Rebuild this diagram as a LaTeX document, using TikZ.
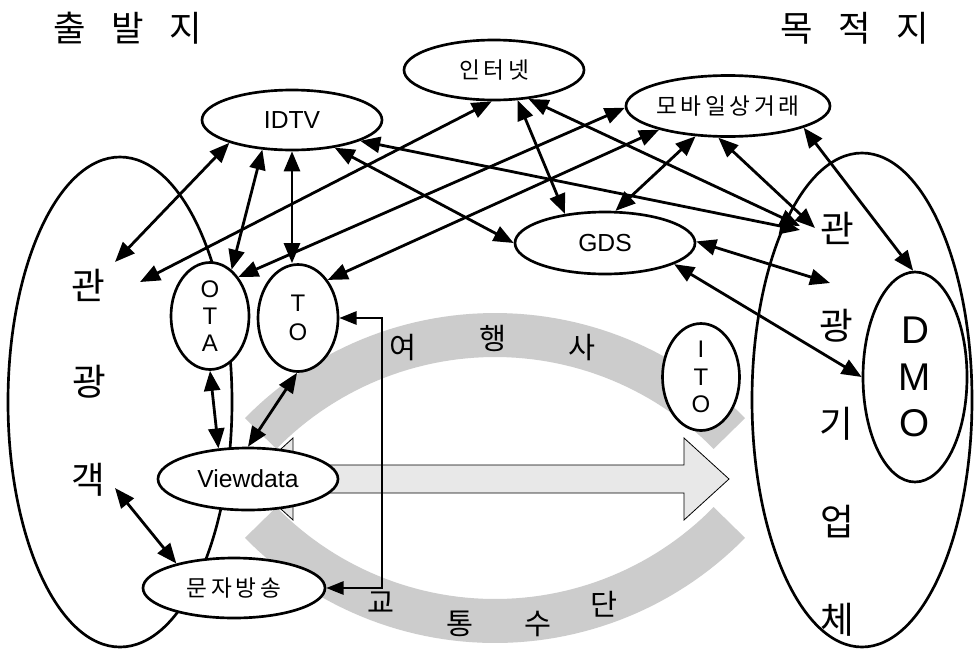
\documentclass[tikz,border=0pt]{standalone}
\usepackage{fontspec}
\setmainfont{Liberation Sans}
\newfontfamily\kr{Noto Sans CJK KR}
\newfontfamily\krsp[LetterSpace=16]{Noto Sans CJK KR}
\usetikzlibrary{shapes.geometric,arrows.meta,calc}

\begin{document}
\begin{tikzpicture}[x=0.75pt,y=-0.75pt,
  oval/.style={ellipse,draw,line width=2pt,fill=white,inner sep=0pt},
  latlabel/.style={font=\fontsize{18.5}{20}\selectfont},
  krlabel/.style={font=\krsp\fontsize{17}{18}\selectfont},
  stacked/.style={align=center,font=\fontsize{18}{20.5}\selectfont},
  bigchar/.style={font=\kr\fontsize{27.5}{27.5}\selectfont,inner sep=0pt},
  bandchar/.style={font=\kr\fontsize{22}{22}\selectfont,inner sep=0pt},
  title/.style={font=\kr\fontsize{26.5}{26.5}\selectfont,inner sep=0pt},
  link/.style={line width=2.1pt,{Triangle[length=15pt,width=12pt]}-{Triangle[length=15pt,width=12pt]}},
  feed/.style={line width=1.5pt,{Triangle[length=13pt,width=10pt]}-{Triangle[length=13pt,width=10pt]}},
  bandfill/.style={fill=black!20},
]
\useasboundingbox (0,0) rectangle (977,650);
\fill[white] (0,0) rectangle (977,650);

% curved bands: travel agencies (top) and transport (bottom)
\fill[bandfill] plot[domain=44.4:135.6,samples=60] ({495+350*cos(\x)},{663-350*sin(\x)})
  -- plot[domain=135.6:44.4,samples=60] ({495+306*cos(\x)},{663-306*sin(\x)}) -- cycle;
\fill[bandfill] plot[domain=44.4:135.6,samples=60] ({495+350*cos(\x)},{293+350*sin(\x)})
  -- plot[domain=135.6:44.4,samples=60] ({495+306*cos(\x)},{293+306*sin(\x)}) -- cycle;

% two-headed block arrow between origin and destination
\draw[line width=0.6pt,fill=black!9] (248,479) -- (293,438) -- (293,465) -- (684,465) -- (684,438)
  -- (729,479) -- (684,520) -- (684,493) -- (293,493) -- (293,520) -- cycle;

% origin and destination regions
\node[ellipse,draw,line width=2pt,minimum width=168pt,minimum height=367.5pt] (tourists) at (120,402) {};
\node[ellipse,draw,line width=2pt,minimum width=165pt,minimum height=370.5pt] (firms) at (862,400) {};

% headings
\node[title] (origin) at (128,28) {출\hspace{19pt}발\hspace{19pt}지};
\node[title] (dest) at (855,28) {목\hspace{19pt}적\hspace{19pt}지};

% vertical labels
\node[bigchar] (t1) at (88,285) {관};
\node[bigchar] (t2) at (89,382) {광};
\node[bigchar] (t3) at (88,480) {객};
\node[bigchar] (f1) at (837,228) {관};
\node[bigchar] (f2) at (836,326) {광};
\node[bigchar] (f3) at (836,424) {기};
\node[bigchar] (f4) at (837,522) {업};
\node[bigchar] (f5) at (837,620) {체};

% band labels
\node[bandchar] (b1) at (403,348) {여};
\node[bandchar] (b2) at (493,338) {행};
\node[bandchar] (b3) at (582,348) {사};
\node[bandchar] (b4) at (381,603) {교};
\node[bandchar] (b5) at (460,624) {통};
\node[bandchar] (b6) at (538,624) {수};
\node[bandchar] (b7) at (604,604) {단};

% channels and intermediaries
\node[oval,latlabel,minimum width=135pt,minimum height=45pt] (idtv) at (292,120) {IDTV};
\node[oval,krlabel,minimum width=135pt,minimum height=45pt] (inet) at (494,70) {인터넷};
\node[oval,krlabel,minimum width=153pt,minimum height=45.75pt] (mob) at (728,106) {모바일상거래};
\node[oval,latlabel,minimum width=135pt,minimum height=46.5pt] (gds) at (605,243) {GDS};
\node[oval,stacked,minimum width=58.5pt,minimum height=80.25pt] (ota) at (210,316) {O\\T\\A};
\node[oval,stacked,minimum width=60pt,minimum height=80.25pt,font=\fontsize{18}{21.5}\selectfont] (to) at (298,318) {T\\O};
\node[oval,stacked,minimum width=57.75pt,minimum height=80.25pt] (ito) at (701,377) {I\\T\\O};
\node[oval,latlabel,minimum width=135pt,minimum height=46.5pt] (vd) at (248,479) {Viewdata};
\node[oval,krlabel,minimum width=136.5pt,minimum height=45pt] (msg) at (234,588) {문자방송};
\node[oval,align=center,font=\fontsize{29}{35}\selectfont,minimum width=78pt,minimum height=157.5pt] (dmo) at (915,377) {D\\M\\O};

% free ends inside the two regions
\coordinate (c1) at (115,262);
\coordinate (c2) at (140,282);
\coordinate (c3) at (115,488);
\coordinate (d1) at (800,226);
\coordinate (d2) at (800,230);
\coordinate (d3) at (815,228);
\coordinate (d4) at (830,283);
\coordinate (bus) at (382,318);

% links
\draw[link] (idtv.200) -- (c1);
\draw[link] (idtv.225) -- (ota.65);
\draw[link] (idtv.south) -- (idtv.south |- to.north);
\draw[link] (idtv.327) -- (gds.180);
\draw[link] (idtv.343) -- (d2);
\draw[link] (inet.266) -- (c2);
\draw[link] (inet.308) -- (gds.144);
\draw[link] (inet.320) -- (d1);
\draw[link] (mob.181) -- (ota.54);
\draw[link] (mob.199) -- (to.52);
\draw[link] (mob.223) -- (gds.72);
\draw[link] (mob.253) -- (d3);
\draw[link] (mob.344) -- (dmo.91);
\draw[link] (gds.1) -- (d4);
\draw[link] (gds.343) -- (dmo.180);
\draw[link] (ota.270) -- (vd.134);
\draw[link] (to.269) -- (vd.90);
\draw[link] (c3) -- (msg.157);
\draw[feed] (to.east) -- (bus) |- (msg.east);
\end{tikzpicture}
\end{document}
